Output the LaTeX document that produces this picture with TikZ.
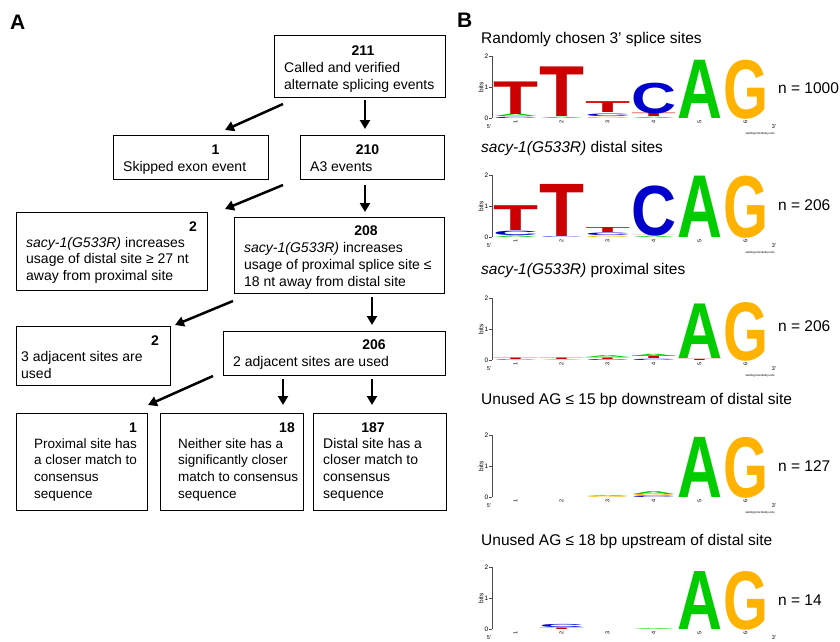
\documentclass[tikz,border=0pt]{standalone}
\usepackage{fontspec}
\setmainfont{Liberation Sans}
\usetikzlibrary{arrows.meta}
\definecolor{lgT}{RGB}{204,0,0}
\definecolor{lgC}{RGB}{0,0,204}
\definecolor{lgA}{RGB}{0,204,0}
\definecolor{lgG}{RGB}{255,179,0}
\tikzset{
  box/.style={draw, line width=1pt, inner sep=0pt, outer sep=0pt},
  txt/.style={anchor=north west, inner sep=0pt, align=left, font=\fontsize{14}{16.8}\selectfont},
  smalltxt/.style={txt, font=\fontsize{13.5}{16.8}\selectfont},
  num/.style={anchor=base, inner sep=0pt, font=\fontsize{14}{16.8}\selectfont\bfseries},
  arr/.style={line width=2.5pt, -{Triangle[length=9pt,width=10pt]}},
  ttl/.style={anchor=base west, inner sep=0pt, font=\fontsize{15.5}{18}\selectfont},
  panel/.style={anchor=base west, inner sep=0pt, font=\fontsize{21}{24}\selectfont\bfseries},
  glyph/.style={anchor=base west, inner sep=0pt, outer sep=0pt},
  axisline/.style={line width=0.6pt, black!70},
  ticklbl/.style={inner sep=0pt, font=\fontsize{6.5}{7}\selectfont},
}
% one stretched letter of a logo: base, column, bottom (bits), height (bits), colour, letter
\newcommand{\logoletter}[6]{%
  \pgfmathsetmacro{\lgx}{493+46*(#2-1)}%
  \pgfmathsetmacro{\lgy}{#1-31*#3}%
  \pgfmathsetmacro{\lgh}{31*#4}%
  \node[glyph,text=#5] (g#1-#2#6) at (\lgx,\lgy) {\resizebox{45pt}{\lgh pt}{\bfseries #6}};%
}
% axes of a logo at a given base line
\newcommand{\logoaxes}[1]{%
  \draw[axisline] (492,#1) -- (492,#1-62);
  \foreach \bt in {0,1,2}{
    \draw[axisline] (489,#1-31*\bt) -- (492,#1-31*\bt);
    \node[ticklbl,anchor=east] (yt#1-\bt) at (488.5,#1-31*\bt) {\bt};
  }
  \node[ticklbl,rotate=90] (bits#1) at (481,#1-31) {bits};
  \foreach \cl in {1,...,6}{
    \node[ticklbl,rotate=90,anchor=east,font=\fontsize{5.5}{6}\selectfont] (xt#1-\cl) at (493+46*\cl-23.5,#1+2) {\cl};
  }
  \node[ticklbl,font=\fontsize{5.5}{6}\selectfont] (five#1) at (489,#1+9) {5'};
  \node[ticklbl,font=\fontsize{5.5}{6}\selectfont] (three#1) at (774,#1+9) {3'};
}
\newcommand{\weblogo}[1]{%
  \node[inner sep=0pt,font=\fontsize{3}{3.5}\selectfont] (wl#1) at (760,#1+16) {weblogo.berkeley.edu};
}
\begin{document}
\begin{tikzpicture}[x=1pt,y=-1pt]
\fill[white] (0,0) rectangle (840,642);
\useasboundingbox (0,0) rectangle (840,642);

\node[panel] (pA) at (10,30) {A};
\node[panel] (pB) at (457,28) {B};

\node[box,minimum width=171pt,minimum height=61pt] (b211) at (359.5,66.5) {};
\node[box,minimum width=155pt,minimum height=44pt] (bSkip) at (190.5,157) {};
\node[box,minimum width=144pt,minimum height=44pt] (b210) at (372,157) {};
\node[box,minimum width=191pt,minimum height=78pt] (bDistal) at (111.5,251) {};
\node[box,minimum width=210pt,minimum height=76pt] (b208) at (339,255) {};
\node[box,minimum width=154pt,minimum height=59pt] (b3adj) at (93,355.5) {};
\node[box,minimum width=222pt,minimum height=44pt] (b206) at (334,353) {};
\node[box,minimum width=131pt,minimum height=97pt] (bProx) at (81.5,461.5) {};
\node[box,minimum width=143pt,minimum height=97pt] (bNeither) at (231.5,461.5) {};
\node[box,minimum width=133pt,minimum height=97pt] (b187) at (379.5,461.5) {};

\node[num] (n211) at (363,56) {211};
\node[txt] (t211) at (284,60.7) {\strut Called and verified\\alternate splicing events};
\node[num] (nSkip) at (215.5,154) {1};
\node[txt] (tSkip) at (123,159.2) {\strut Skipped exon event};
\node[num] (n210) at (367.5,154) {210};
\node[txt] (t210) at (310,159.2) {\strut A3 events};
\node[num] (nDistal) at (193,231) {2};
\node[txt] (tDistal) at (26,235.2) {\strut\textit{sacy-1(G533R)} increases\\usage of distal site ≥ 27 nt\\away from proximal site};
\node[num] (n208) at (366,235) {208};
\node[txt] (t208) at (244,240.7) {\strut\textit{sacy-1(G533R)} increases\\usage of proximal splice site ≤\\18 nt away from distal site};
\node[num] (n3adj) at (155,345) {2};
\node[txt] (t3adj) at (21,349.7) {\strut 3 adjacent sites are\\used};
\node[num] (n206) at (374,349) {206};
\node[txt] (t206) at (233,354.2) {\strut 2 adjacent sites are used};
\node[num] (nProx) at (133,432) {1};
\node[smalltxt] (tProx) at (34,436.2) {\strut Proximal site has\\a closer match to\\consensus\\sequence};
\node[num] (nNeither) at (287,432) {18};
\node[smalltxt] (tNeither) at (178,436.2) {\strut Neither site has a\\significantly closer\\match to consensus\\sequence};
\node[num] (n187) at (373,432) {187};
\node[txt] (t187) at (323,436.2) {\strut Distal site has a\\closer match to\\consensus\\sequence};

\draw[arr] ([xshift=9pt,yshift=-7pt]b211.south west) -- ([xshift=-43pt,yshift=5pt]bSkip.north east);
\draw[arr] ([xshift=5.5pt,yshift=-3pt]b211.south) -- ([xshift=-7pt,yshift=6pt]b210.north);
\draw[arr] ([xshift=-17pt,yshift=-6pt]b210.south west) -- ([xshift=18pt,yshift=3pt]bDistal.north east);
\draw[arr] ([xshift=-7pt,yshift=-6pt]b210.south) -- ([xshift=26pt,yshift=5pt]b208.north);
\draw[arr] ([xshift=-1pt,yshift=-8pt]b208.south west) -- ([xshift=5pt,yshift=1pt]b3adj.north east);
\draw[arr] ([xshift=33pt,yshift=-4pt]b208.south) -- ([xshift=38pt,yshift=6pt]b206.north);
\draw[arr] ([xshift=-10pt,yshift=-1pt]b206.south west) -- ([xshift=1pt,yshift=8pt]bProx.north east);
\draw[arr] ([xshift=-51pt,yshift=-4pt]b206.south) -- ([xshift=51.5pt,yshift=8pt]bNeither.north);
\draw[arr] ([xshift=38pt,yshift=-4pt]b206.south) -- ([xshift=-7.5pt,yshift=8pt]b187.north);

\node[ttl] (ttl1) at (481,43.3) {Randomly chosen 3’ splice sites};
\logoaxes{118}
\weblogo{118}
\logoletter{118}{1}{0}{0.04}{lgC}{C}
\logoletter{118}{1}{0.04}{0.08}{lgA}{A}
\logoletter{118}{1}{0.12}{1.05}{lgT}{T}
\logoletter{118}{2}{0}{0.04}{lgA}{A}
\logoletter{118}{2}{0.04}{1.6}{lgT}{T}
\logoletter{118}{3}{0}{0.04}{lgG}{G}
\logoletter{118}{3}{0.04}{0.08}{lgC}{C}
\logoletter{118}{3}{0.17}{0.35}{lgT}{T}
\logoletter{118}{4}{0}{0.04}{lgA}{A}
\logoletter{118}{4}{0.04}{0.11}{lgT}{T}
\logoletter{118}{4}{0.16}{0.98}{lgC}{C}
\logoletter{118}{5}{0}{1.88}{lgA}{A}
\logoletter{118}{6}{0}{1.88}{lgG}{G}
\node[ttl] (n1) at (778,93) {n = 1000};

\node[ttl] (ttl2) at (481,152.3) {\textit{sacy-1(G533R)} distal sites};
\logoaxes{237}
\weblogo{237}
\logoletter{237}{1}{0}{0.05}{lgA}{A}
\logoletter{237}{1}{0.05}{0.14}{lgC}{C}
\logoletter{237}{1}{0.2}{0.8}{lgT}{T}
\logoletter{237}{2}{0}{0.02}{lgC}{C}
\logoletter{237}{2}{0.02}{1.68}{lgT}{T}
\logoletter{237}{3}{0}{0.04}{lgG}{G}
\logoletter{237}{3}{0.04}{0.08}{lgC}{C}
\logoletter{237}{3}{0.13}{0.16}{lgT}{T}
\logoletter{237}{4}{0}{0.04}{lgA}{A}
\logoletter{237}{4}{0.04}{0.02}{lgT}{T}
\logoletter{237}{4}{0.06}{1.6}{lgC}{C}
\logoletter{237}{5}{0}{1.98}{lgA}{A}
\logoletter{237}{6}{0}{1.98}{lgG}{G}
\node[ttl] (n2) at (778,210) {n = 206};

\node[ttl] (ttl3) at (481,274) {\textit{sacy-1(G533R)} proximal sites};
\logoaxes{360}
\weblogo{360}
\logoletter{360}{1}{0}{0.02}{lgC}{C}
\logoletter{360}{1}{0.02}{0.05}{lgT}{T}
\logoletter{360}{2}{0}{0.02}{lgA}{A}
\logoletter{360}{2}{0.02}{0.05}{lgT}{T}
\logoletter{360}{3}{0}{0.03}{lgC}{C}
\logoletter{360}{3}{0.03}{0.05}{lgT}{T}
\logoletter{360}{3}{0.08}{0.06}{lgA}{A}
\logoletter{360}{4}{0}{0.04}{lgC}{C}
\logoletter{360}{4}{0.04}{0.08}{lgT}{T}
\logoletter{360}{4}{0.12}{0.07}{lgA}{A}
\logoletter{360}{5}{0}{0.04}{lgT}{T}
\logoletter{360}{5}{0.04}{1.76}{lgA}{A}
\logoletter{360}{6}{0}{1.87}{lgG}{G}
\node[ttl] (n3) at (778,331) {n = 206};

\node[ttl] (ttl4) at (481,404) {Unused AG ≤ 15 bp downstream of distal site};
\logoaxes{497}
\weblogo{497}
\logoletter{497}{3}{0}{0.03}{lgG}{G}
\logoletter{497}{3}{0.03}{0.03}{lgA}{A}
\logoletter{497}{4}{0}{0.05}{lgC}{C}
\logoletter{497}{4}{0.05}{0.04}{lgG}{G}
\logoletter{497}{4}{0.09}{0.09}{lgA}{A}
\logoletter{497}{5}{0}{1.94}{lgA}{A}
\logoletter{497}{6}{0}{1.94}{lgG}{G}
\node[ttl] (n4) at (778,471) {n = 127};

\node[ttl] (ttl5) at (481,545) {Unused AG ≤ 18 bp upstream of distal site};
\logoaxes{629}
\logoletter{629}{2}{0}{0.05}{lgT}{T}
\logoletter{629}{2}{0.05}{0.1}{lgC}{C}
\logoletter{629}{4}{0}{0.03}{lgA}{A}
\logoletter{629}{5}{0}{1.87}{lgA}{A}
\logoletter{629}{6}{0}{1.87}{lgG}{G}
\node[ttl] (n5) at (778,605) {n = 14};
\end{tikzpicture}
\end{document}
